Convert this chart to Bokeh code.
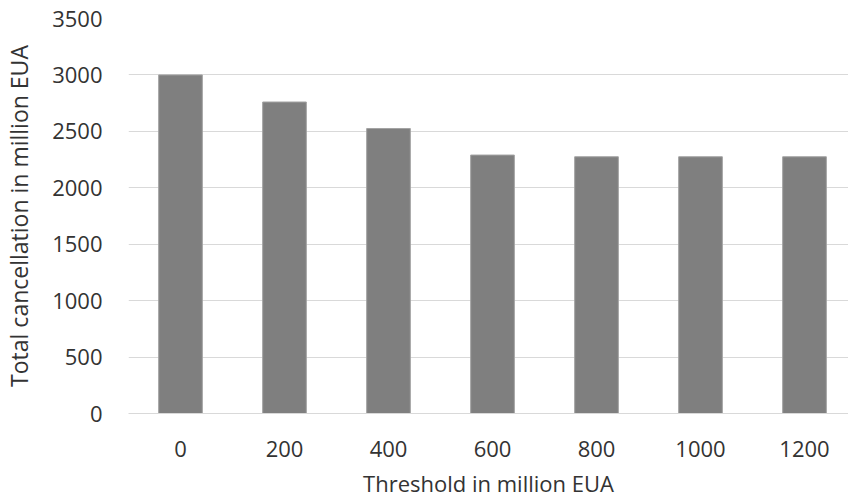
from bokeh.plotting import figure
from bokeh.models import Range1d, FixedTicker, ColumnDataSource
from bokeh.embed import file_html
from bokeh.resources import INLINE

categories = ["0", "200", "400", "600", "800", "1000", "1200"]
cancellation = [3000, 2760, 2525, 2290, 2275, 2275, 2275]
y_ticks = [0, 500, 1000, 1500, 2000, 2500, 3000, 3500]

xs = list(range(len(categories)))
src = ColumnDataSource(dict(x=xs, top=cancellation))

FONT = "Open Sans"
TXT = "#333333"

p = figure(frame_width=720, frame_height=395, output_backend="svg",
           toolbar_location=None, x_range=Range1d(-0.5, 6.423),
           y_range=Range1d(0, 3500))
p.min_border_left = 128
p.min_border_top = 18
p.min_border_right = 0
p.min_border_bottom = 88
p.outline_line_color = None
p.background_fill_color = "white"

p.vbar(x="x", top="top", bottom=0, width=0.42, source=src,
       fill_color="#7f7f7f", line_color="#a3a3a3", line_width=1)

p.xaxis.ticker = FixedTicker(ticks=xs)
p.xaxis.major_label_overrides = {i: c for i, c in enumerate(categories)}
p.yaxis.ticker = FixedTicker(ticks=y_ticks)
p.xgrid.grid_line_color = None
p.ygrid.grid_line_color = "#d9d9d9"
p.ygrid.grid_line_width = 1

for ax in (p.xaxis[0], p.yaxis[0]):
    ax.major_tick_line_color = None
    ax.minor_tick_line_color = None
    ax.major_tick_out = 0
    ax.major_tick_in = 0
    ax.major_label_text_font = FONT
    ax.major_label_text_font_size = "22px"
    ax.major_label_text_color = TXT
    ax.axis_label_text_font = FONT
    ax.axis_label_text_font_size = "23px"
    ax.axis_label_text_font_style = "normal"
    ax.axis_label_text_color = TXT

p.xaxis.axis_label_text_font_size = "22px"
p.xaxis.axis_line_color = "#d9d9d9"
p.yaxis.axis_line_color = None
p.xaxis.axis_label = "Threshold in million EUA"
p.yaxis.axis_label = "Total cancellation in million EUA"
p.xaxis.major_label_standoff = 27
p.yaxis.major_label_standoff = 26
p.xaxis.axis_label_standoff = 8
p.yaxis.axis_label_standoff = 14

open("out.html", "w").write(file_html(p, INLINE))
